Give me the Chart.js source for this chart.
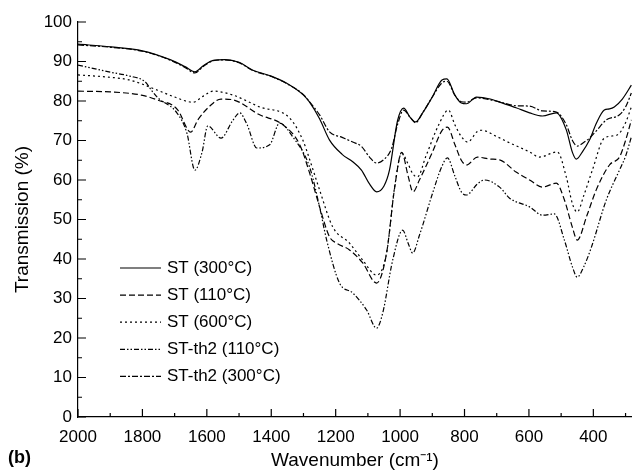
<!DOCTYPE html>
<html>
<head>
<meta charset="utf-8">
<script src="https://cdn.jsdelivr.net/npm/chart.js@4"></script>
<style>
  html, body { margin: 0; padding: 0; background: #fff; }
  #wrap { width: 632px; height: 474px; }
</style>
</head>
<body>
<div id="wrap"><canvas id="ftirChart" width="632" height="474"></canvas></div>
<script>
// tick labels
const xTicks = [400, 600, 800, 1000, 1200, 1400, 1600, 1800, 2000];
const yTicks = [0, 10, 20, 30, 40, 50, 60, 70, 80, 90, 100];

// ST (300 C) - solid
const st300Wn = [2000, 1898, 1800, 1712, 1668, 1637, 1610, 1580, 1544, 1500, 1457, 1400, 1352, 1300, 1281, 1250, 1219, 1180, 1147, 1120, 1095, 1073, 1050, 1033, 1008, 989, 970, 952, 930, 900, 870, 855, 830, 810, 794, 763, 720, 691, 640, 598, 558, 515, 484, 465, 453, 435, 412, 390, 366, 350, 335, 310, 282];
const st300T = [94.4, 93.7, 92.7, 90.4, 88.7, 87.4, 89, 90.3, 90.5, 89.8, 87.8, 86.3, 84.5, 81.5, 79.7, 75.5, 70.1, 66.5, 64.6, 62.5, 59, 57, 58.5, 62.5, 75, 78.2, 76, 74.7, 77, 81, 85.3, 85.6, 81.5, 79.5, 79.3, 81, 80.5, 79.7, 78.3, 77, 76.2, 77, 72.7, 67, 65.3, 67, 70.1, 74.5, 77.7, 78, 78.5, 80.5, 84];

// ST (110 C) - dashed
const st110Wn = [2000, 1900, 1804, 1752, 1690, 1659, 1650, 1628, 1587, 1556, 1519, 1436, 1364, 1312, 1281, 1250, 1219, 1197, 1157, 1116, 1073, 1042, 1017, 995, 975, 960, 940, 900, 870, 853, 830, 810, 794, 760, 720, 691, 640, 598, 558, 515, 490, 465, 450, 420, 391, 350, 319, 300, 282];
const st110T = [82.5, 82.3, 81.5, 80.2, 77.7, 72.7, 72.1, 75.2, 79, 80.5, 80.3, 76.5, 74, 69, 61.8, 53.2, 45.6, 44, 42.3, 39, 33.9, 41.5, 58, 67, 61, 57, 60, 67, 72.5, 73.4, 69, 65, 63.8, 65.8, 65.3, 65.1, 62, 60, 58.2, 59.2, 55, 48, 44.8, 51, 57.5, 63.8, 65.8, 70, 75.2];

// ST (600 C) - dotted
const st600Wn = [2000, 1900, 1839, 1755, 1700, 1643, 1610, 1581, 1519, 1436, 1343, 1302, 1280, 1250, 1209, 1157, 1116, 1073, 1042, 1017, 995, 975, 960, 946, 920, 880, 850, 830, 810, 790, 760, 747, 700, 660, 598, 568, 512, 484, 465, 450, 430, 403, 366, 326, 300, 282];
const st600T = [86.6, 86, 85.3, 82.8, 81, 79.7, 81.3, 82.5, 81.5, 78.5, 75.7, 70.1, 65, 57.5, 48.1, 44, 39.7, 35.9, 41.5, 58.2, 66.8, 64, 61.5, 60.8, 66, 74, 77.7, 74, 71, 69.6, 72.3, 72.6, 71, 69.4, 67.1, 65.8, 67.1, 60.8, 54, 51.9, 56, 62.5, 70.6, 71.4, 74.5, 78.5];

// ST-th2 (110 C) - dash-dot-dot
const th110Wn = [2000, 1900, 1839, 1792, 1770, 1752, 1693, 1662, 1637, 1615, 1597, 1556, 1520, 1498, 1475, 1445, 1405, 1374, 1333, 1281, 1250, 1228, 1188, 1147, 1104, 1073, 1054, 1023, 992, 975, 961, 940, 899, 870, 853, 830, 810, 794, 760, 738, 691, 660, 598, 558, 521, 490, 465, 450, 430, 406, 360, 319, 300, 282];
const th110T = [89.1, 87.3, 86.3, 84.9, 82.5, 80.8, 77, 71.9, 62.5, 67, 73.7, 70.6, 75, 77, 74, 68.1, 68.9, 74.4, 70.9, 63.3, 53.2, 44.8, 33.9, 31.4, 27.1, 22.5, 26.3, 39.7, 47.3, 44, 41.5, 46, 56.7, 63.5, 65.6, 61, 57, 56.2, 59, 60, 58.2, 55.4, 53.2, 51.1, 51.4, 44.8, 38, 35.4, 38, 43, 54.9, 62.5, 66, 70.9];

// ST-th2 (300 C) - dash-dot
const th300Wn = [2000, 1898, 1800, 1712, 1668, 1637, 1610, 1580, 1544, 1500, 1457, 1400, 1352, 1300, 1281, 1250, 1219, 1180, 1147, 1120, 1095, 1073, 1050, 1026, 1008, 989, 970, 952, 930, 900, 870, 855, 830, 810, 794, 763, 720, 691, 640, 598, 558, 515, 484, 465, 450, 430, 412, 390, 360, 319, 300, 282];
const th300T = [94.2, 93.6, 92.6, 90.3, 88.5, 87.1, 88.8, 90.2, 90.4, 89.7, 87.7, 86.2, 84.4, 81.6, 79.8, 76.5, 72.2, 70.8, 69.6, 68.5, 65.8, 64.3, 65.2, 68.1, 74, 77.7, 76, 74.5, 77, 81, 84.6, 85, 81.5, 79.8, 79.7, 80.8, 80.3, 79.8, 78.8, 78.7, 77.5, 77.2, 74, 70, 68.6, 69.5, 70.6, 72.5, 75.2, 76.5, 78.5, 82];

const seriesLabels = ["ST (300°C)", "ST (110°C)", "ST (600°C)", "ST-th2 (110°C)", "ST-th2 (300°C)"];

function pts(wn, t) {
  return wn.map((w, i) => ({ x: w, y: t[i] }));
}

Chart.defaults.font.family = "'Liberation Sans', Arial, sans-serif";
Chart.defaults.color = "#000";

// inward ticks, minor ticks and the "(b)" panel label
const axisDecor = {
  id: "axisDecor",
  afterDraw(chart) {
    const ctx = chart.ctx;
    const xs = chart.scales.x;
    const ys = chart.scales.y;
    const area = chart.chartArea;
    ctx.save();
    ctx.strokeStyle = "#000";
    ctx.lineWidth = 1.2;
    ctx.beginPath();
    for (let v = 300; v <= 2000; v += 100) {
      const px = xs.getPixelForValue(v);
      const len = v % 200 === 0 ? 8 : 4;
      ctx.moveTo(px, area.bottom);
      ctx.lineTo(px, area.bottom - len);
    }
    for (let v = 0; v <= 100; v += 5) {
      const py = ys.getPixelForValue(v);
      const len = v % 10 === 0 ? 8 : 4;
      ctx.moveTo(area.left, py);
      ctx.lineTo(area.left + len, py);
    }
    ctx.stroke();
    ctx.fillStyle = "#000";
    ctx.font = "bold 18px 'Liberation Sans', Arial, sans-serif";
    ctx.textBaseline = "middle";
    ctx.fillText("(b)", 8, 458);
    ctx.restore();
  },
};

// legend inside the plot, line samples use each dataset's dash
const insideLegend = {
  id: "insideLegend",
  afterDraw(chart) {
    const ctx = chart.ctx;
    const area = chart.chartArea;
    ctx.save();
    ctx.font = "17px 'Liberation Sans', Arial, sans-serif";
    ctx.textBaseline = "middle";
    ctx.fillStyle = "#000";
    chart.data.datasets.forEach((ds, i) => {
      const y = 268 + i * 27.1;
      const x0 = area.left + 42;
      ctx.strokeStyle = "#000";
      ctx.lineWidth = 1.2;
      ctx.setLineDash(ds.borderDash || []);
      ctx.beginPath();
      ctx.moveTo(x0, y);
      ctx.lineTo(x0 + 41, y);
      ctx.stroke();
      ctx.setLineDash([]);
      ctx.fillText(ds.label, x0 + 47, y);
    });
    ctx.restore();
  },
};

const lineStyle = { borderColor: "#000", borderWidth: 1.2, pointRadius: 0, fill: false, cubicInterpolationMode: "monotone" };

new Chart(document.getElementById("ftirChart"), {
  type: "line",
  data: {
    datasets: [
      { label: seriesLabels[0], data: pts(st300Wn, st300T), borderDash: [], ...lineStyle },
      { label: seriesLabels[1], data: pts(st110Wn, st110T), borderDash: [6, 3], ...lineStyle },
      { label: seriesLabels[2], data: pts(st600Wn, st600T), borderDash: [2, 3], ...lineStyle },
      { label: seriesLabels[3], data: pts(th110Wn, th110T), borderDash: [5, 2, 1.5, 2, 1.5, 2], ...lineStyle },
      { label: seriesLabels[4], data: pts(th300Wn, th300T), borderDash: [6, 2, 2, 2], ...lineStyle },
    ],
  },
  options: {
    responsive: false,
    animation: false,
    layout: { padding: { top: 22, right: 0, bottom: 0, left: 0 } },
    scales: {
      x: {
        type: "linear",
        reverse: true,
        min: 280,
        max: 2000,
        afterBuildTicks: (scale) => { scale.ticks = xTicks.map((v) => ({ value: v })); },
        afterFit: (scale) => { scale.height = 57; },
        grid: { display: false, drawTicks: false },
        border: { display: true, color: "#000", width: 1.2 },
        ticks: { padding: 10, font: { size: 17 }, color: "#000", maxRotation: 0, callback: (v) => String(v) },
        title: { display: true, text: "Wavenumber (cm⁻¹)", font: { size: 19 }, color: "#000", padding: { top: 0, bottom: 2 } },
      },
      y: {
        min: 0,
        max: 100,
        afterBuildTicks: (scale) => { scale.ticks = yTicks.map((v) => ({ value: v })); },
        afterFit: (scale) => { scale.width = 78; },
        grid: { display: false, drawTicks: false },
        border: { display: true, color: "#000", width: 1.2 },
        ticks: { padding: 6, font: { size: 17 }, color: "#000", callback: (v) => String(v) },
        title: { display: true, text: "Transmission (%)", font: { size: 19 }, color: "#000", padding: { top: 11, bottom: 0 } },
      },
    },
    plugins: {
      legend: { display: false },
      tooltip: { enabled: false },
    },
  },
  plugins: [axisDecor, insideLegend],
});
</script>
</body>
</html>
